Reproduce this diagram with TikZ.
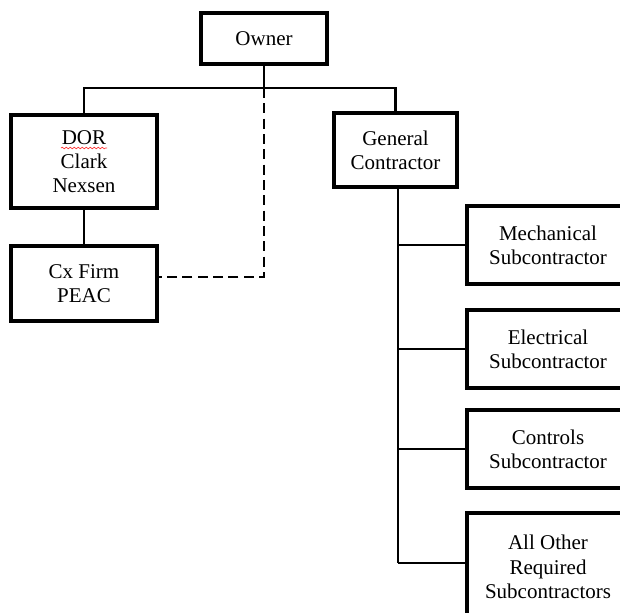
\documentclass[tikz,border=0pt]{standalone}
\usepackage{fontspec}
\setmainfont{Liberation Serif}
\usetikzlibrary{decorations.pathmorphing}
\begin{document}
\begin{tikzpicture}[x=0.75pt,y=-0.75pt,
  orgbox/.style={draw=black,line width=2.6pt,fill=white,align=center,inner sep=0pt,
    font=\fontsize{15.75}{18.2}\selectfont},
  link/.style={draw=black,line width=2.2pt},
  dashlink/.style={draw=black,line width=2.2pt,dash pattern=on 7.5pt off 4pt}]
\clip (0,0) rectangle (620,612);
\fill[white] (0,0) rectangle (620,612);
% coordinates for branches
\coordinate (top) at (264,88);
\coordinate (dcorner) at (264,277);
\coordinate (trunkend) at (398,563);
% nodes
\node[orgbox,minimum width=94.5pt,minimum height=38.25pt] (owner) at (264,38.5) {Owner};
\node[orgbox,minimum width=109.5pt,minimum height=69.75pt] (dor) at (84,161.5) {DOR\\Clark\\Nexsen};
\node[orgbox,minimum width=109.5pt,minimum height=56.25pt] (cx) at (84,283.5) {Cx Firm\\PEAC};
\node[orgbox,minimum width=92.25pt,minimum height=55.5pt] (gc) at (395.5,150) {General\\Contractor};
\node[orgbox,minimum width=121.5pt,minimum height=58.5pt] (mech) at (548,245) {Mechanical\\Subcontractor};
\node[orgbox,minimum width=121.5pt,minimum height=58.5pt] (elec) at (548,349) {Electrical\\Subcontractor};
\node[orgbox,minimum width=121.5pt,minimum height=58.5pt] (ctrl) at (548,449) {Controls\\Subcontractor};
\node[orgbox,minimum width=121.5pt,minimum height=81pt] (other) at (548,567) {All Other\\Required\\Subcontractors};
% connectors
\draw[link] (owner.south) -- (top);
\draw[link] (dor.north) |- (top) -| (gc.north);
\draw[link] (dor.south) -- (cx.north);
\draw[dashlink] (top) -- (dcorner) -- (cx.east |- dcorner);
\draw[link] (gc.south -| trunkend) -- (trunkend);
\draw[link] (trunkend |- mech.west) -- (mech.west);
\draw[link] (trunkend |- elec.west) -- (elec.west);
\draw[link] (trunkend |- ctrl.west) -- (ctrl.west);
\draw[link] (trunkend) -- (other.west |- trunkend);
% spell-check squiggle under DOR
\draw[red!80,line width=0.5pt,decorate,decoration={snake,amplitude=0.6pt,segment length=3pt}] (61,148) -- (107,148);
\end{tikzpicture}
\end{document}
